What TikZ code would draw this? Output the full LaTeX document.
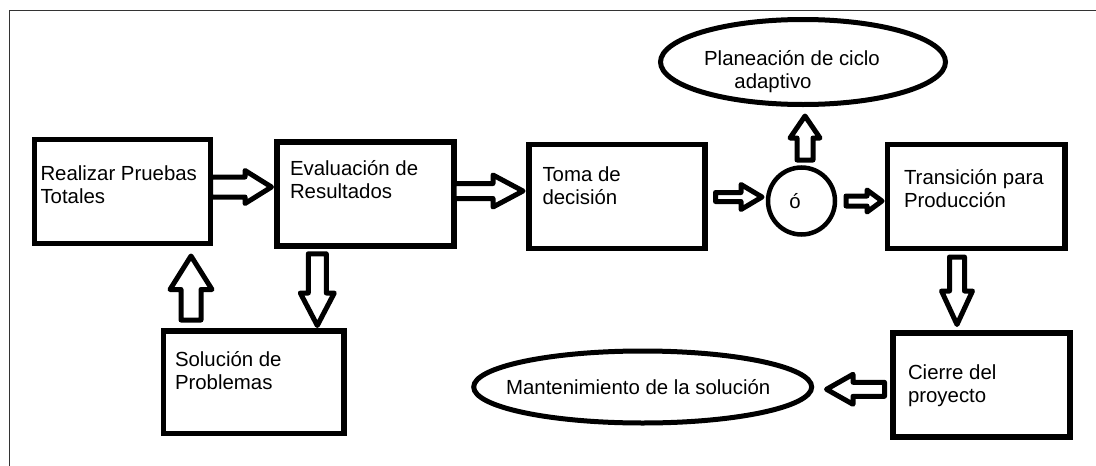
\documentclass[tikz,border=0pt]{standalone}
\usepackage{fontspec}
\setmainfont{Liberation Sans}
\usetikzlibrary{calc,shapes.geometric}
\tikzset{
  frame/.style={draw=black!80, line width=1.3pt},
  txtfont/.style={font=\fontsize{20.4}{23}\selectfont},
  box/.style={draw=black, line width=5.5pt, rectangle, inner sep=0pt, outer sep=0pt, align=flush left, txtfont},
  oval/.style={draw=black, line width=5pt, ellipse, inner sep=0pt, outer sep=0pt, align=flush center, txtfont},
  ring/.style={draw=black, line width=4.5pt, circle, inner sep=0pt, outer sep=0pt, txtfont},
  blk/.style={draw=black, fill=white, line width=5pt, line join=round},
}
% #1 start, #2 tip, #3 shaft half width, #4 head half width, #5 head length
\newcommand\blockarrow[5]{%
  \coordinate (ba) at (#1);
  \coordinate (bb) at (#2);
  \coordinate (bh) at ($(bb)!#5!(ba)$);
  \draw[blk] ($(ba)!#3!90:(bb)$) -- ($(bh)!#3!90:(bb)$) -- ($(bh)!#4!90:(bb)$)
     -- (bb) -- ($(bh)!#4!-90:(bb)$) -- ($(bh)!#3!-90:(bb)$) -- ($(ba)!#3!-90:(bb)$) -- cycle;
}
\begin{document}
\begin{tikzpicture}[x=1pt,y=-1pt]
\useasboundingbox[fill=white] (0,0) rectangle (1096,466);
\draw[frame] (9.5,466) -- (9.5,10.5) -- (1096,10.5);

\node[box, minimum width=176pt, text width=164pt, text height=40.5pt, text depth=63.5pt] (r1) at (122.5,191.5) {Realizar Pruebas\\Totales};
\node[box, minimum width=177pt, text width=151pt, text height=33pt, text depth=71pt] (r2) at (365.5,194) {Evaluación de\\Resultados};
\node[box, minimum width=176pt, text width=149pt, text height=37pt, text depth=67pt] (r3) at (617,196.5) {Toma de\\decisión};
\node[box, minimum width=177.5pt, text width=144.5pt, text height=40pt, text depth=64pt] (r4) at (976.25,196.5) {Transición para\\Producción};
\node[box, minimum width=180.5pt, text width=157.5pt, text height=35.3pt, text depth=67.2pt] (r5) at (253.75,382.25) {Solución de\\Problemas};
\node[box, minimum width=177pt, text width=147pt, text height=46.7pt, text depth=57.3pt] (r6) at (981.5,385) {Cierre del\\proyecto};

\node[ring, minimum size=67pt] (c) at (801.5,201) {ó\hspace*{13pt}};
\node[oval, minimum width=285pt, minimum height=85pt, text width=200pt, text height=20pt, text depth=14pt] (e1) at (803,62) {\makebox[200pt]{Planeación de ciclo\hspace*{22pt}}\\\makebox[200pt]{adaptivo\hspace*{60pt}}};
\node[oval, minimum width=338pt, minimum height=72pt] (e2) at (642.7,387) {\makebox[200pt]{Mantenimiento de la solución\hspace*{9pt}}};

\blockarrow{$(r1.east)+(0,-4.5)$}{$(r2.west)+(-5.5,-7)$}{10pt}{16.5pt}{26.5pt}
\blockarrow{$(r2.east)+(0,-3)$}{$(r3.west)+(-6,-5.5)$}{7.5pt}{16pt}{30pt}
\blockarrow{$(r3.east)+(10.5,0.5)$}{$(c.west)+(-6,-4)$}{4.5pt}{12.5pt}{21pt}
\blockarrow{$(c.east)+(11,0)$}{$(r4.west)+(-5.5,4.5)$}{5pt}{11pt}{15pt}
\blockarrow{$(c.north)+(3.5,-7.5)$}{$(e1.south)+(2,11.5)$}{8pt}{15pt}{22pt}
\blockarrow{$(r2.south)+(-48.2,7.8)$}{$(r5.north)+(63.55,-5.5)$}{9pt}{17pt}{32.5pt}
\blockarrow{$(r5.north)+(-62.75,-11)$}{$(r1.south)+(68.5,12.5)$}{10pt}{21pt}{33.5pt}
\blockarrow{$(r4.south)+(-19.25,8.5)$}{$(r6.north)+(-24.5,-8.5)$}{7.5pt}{15.5pt}{33.5pt}
\blockarrow{$(r6.west)+(-8.5,4.3)$}{$(e2.east)+(14.8,2.3)$}{7pt}{15pt}{26.5pt}
\end{tikzpicture}
\end{document}
